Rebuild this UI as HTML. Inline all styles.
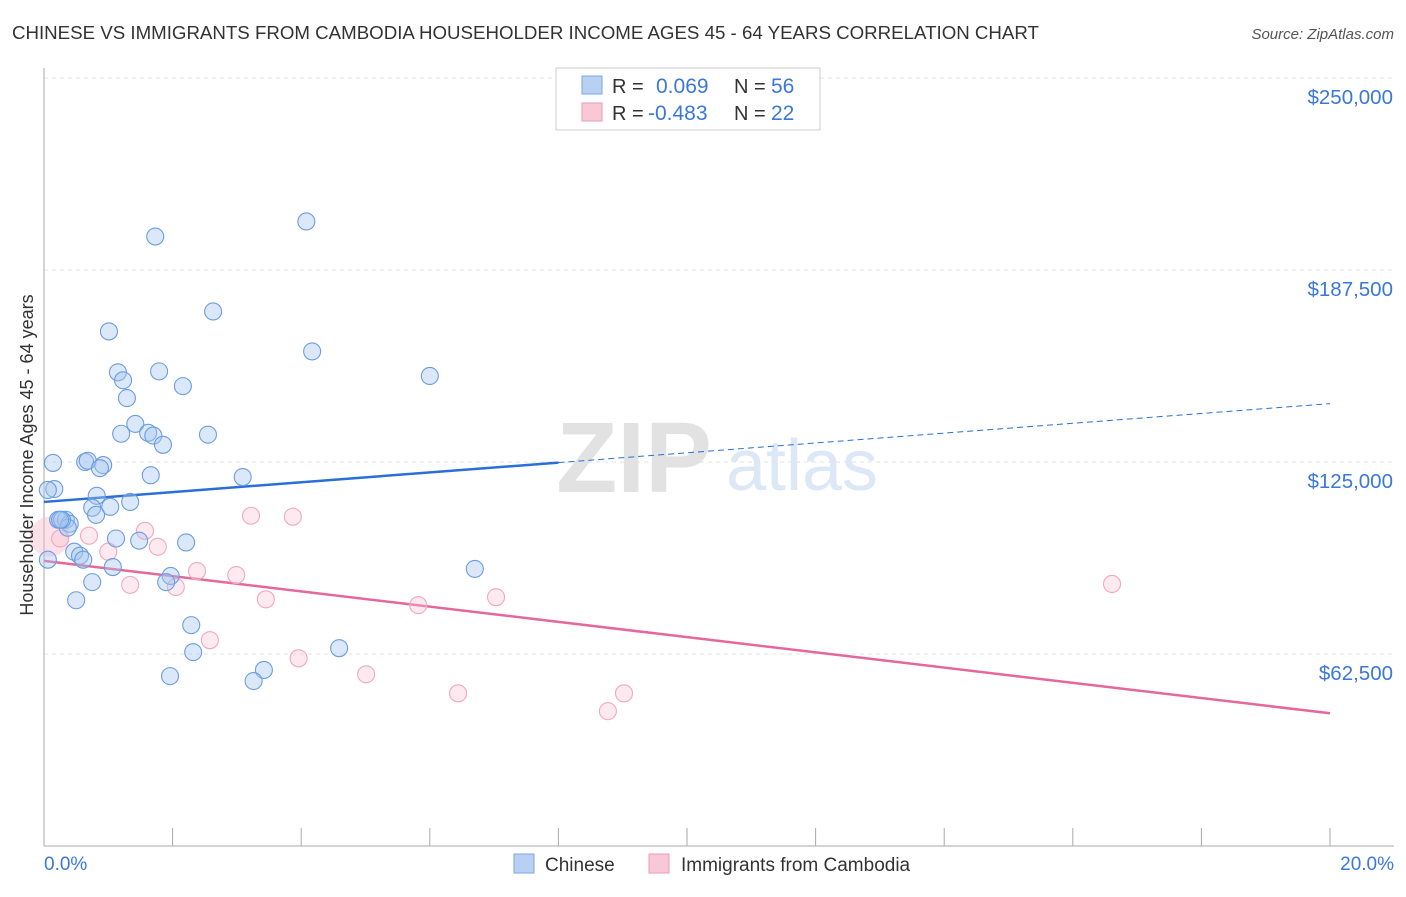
<!DOCTYPE html>
<html><head><meta charset="utf-8">
<style>
body{margin:0;background:#fff;font-family:"Liberation Sans",sans-serif;}
svg text{font-family:"Liberation Sans",sans-serif;}
</style></head>
<body>
<svg id="chart" width="1406" height="892">
<text x="12" y="39" font-size="18.7" fill="#333">CHINESE VS IMMIGRANTS FROM CAMBODIA HOUSEHOLDER INCOME AGES 45 - 64 YEARS CORRELATION CHART</text>
<text x="1394" y="39" font-size="15" fill="#555" text-anchor="end" font-style="italic">Source: ZipAtlas.com</text>
<text x="634" y="492" font-size="100" fill="#e2e2e2" text-anchor="middle" font-family="Liberation Serif" font-weight="bold">ZIP</text>
<text x="802" y="490" font-size="72" fill="#dde8f6" text-anchor="middle">atlas</text>
<g id="grid"></g>
<g id="axes"></g>
<g id="lines"></g>
<g id="pts"></g>
<text x="33" y="455" font-size="18" fill="#333" text-anchor="middle" transform="rotate(-90 33 455)">Householder Income Ages 45 - 64 years</text>
<text x="44" y="870" font-size="19" fill="#3a78d8">0.0%</text>
<text x="1394" y="870" font-size="19" fill="#3a78d8" text-anchor="end">20.0%</text>
<g>
<rect x="556" y="68" width="264" height="62" fill="#fff" stroke="#ccc"/>
<rect x="582" y="76" width="20" height="18" fill="#b8d1f3" stroke="#7aa7e6"/>
<rect x="582" y="103" width="20" height="18" fill="#f9c8d7" stroke="#ee9ab5"/>
<text x="612" y="93" font-size="20" fill="#333">R =</text>
<text x="656" y="93" font-size="21" fill="#3a78d8">0.069</text>
<text x="734" y="93" font-size="20" fill="#333">N =</text>
<text x="771" y="93" font-size="21" fill="#3a78d8">56</text>
<text x="612" y="120" font-size="20" fill="#333">R =</text>
<text x="648" y="120" font-size="21" fill="#3a78d8">-0.483</text>
<text x="734" y="120" font-size="20" fill="#333">N =</text>
<text x="771" y="120" font-size="21" fill="#3a78d8">22</text>
</g>
<g>
<rect x="514" y="854" width="20" height="19" fill="#b8d1f3" stroke="#7aa7e6"/>
<text x="545" y="871" font-size="19" fill="#333">Chinese</text>
<rect x="649" y="854" width="20" height="19" fill="#f9c8d7" stroke="#ee9ab5"/>
<text x="681" y="871" font-size="19" fill="#333">Immigrants from Cambodia</text>
</g>
</svg>
<script>
const yTicks=[62500,125000,187500,250000];
const yTickLabels=["$62,500","$125,000","$187,500","$250,000"];
const xTicks=[0,2,4,6,8,10,12,14,16,18,20];
const chineseX=[1.73,4.08,2.63,1.01,4.17,1.15,1.79,1.23,2.16,6.0,1.29,1.42,1.20,1.62,1.70,2.55,1.85,0.14,0.64,0.68,0.92,0.87,1.66,3.09,0.16,0.06,0.82,0.75,1.34,1.03,0.81,0.22,0.34,0.40,0.37,0.28,1.12,2.21,1.48,0.47,0.56,0.06,0.61,1.07,6.70,1.97,1.90,0.75,0.50,2.29,4.59,2.32,3.42,1.96,3.26,0.25];
const chineseY=[198400,203300,174000,167500,161000,154200,154500,151600,149700,153000,145800,137400,134200,134500,133600,133900,130600,124700,125000,125400,124000,123000,120700,120100,116200,115900,114000,110100,112000,110400,107800,106200,106200,104900,103600,106200,100100,98800,99400,95800,94500,93200,93200,90800,90200,87900,85900,85900,80000,71900,64400,63100,57300,55300,53700,106200];
const cambodiaX=[0.09,0.70,1.57,1.00,1.77,1.34,2.05,2.38,3.22,3.87,2.99,3.45,5.82,7.03,2.58,3.96,5.01,6.44,9.02,8.77,16.61,0.25];
const cambodiaY=[100700,101000,102600,95800,97400,85000,84300,89500,107500,107200,88200,80300,78400,81000,67000,61100,55900,49700,49700,43900,85300,100100];
const chineseTrend=[[0,112000],[8,124800],[20,144000]];
const cambodiaTrend=[[0,92800],[20,43200]];
const NS="http://www.w3.org/2000/svg";
const X0=44,X1=1330,Y0=846,YPX=192/62500;
const sx=v=>X0+(X1-X0)*v/20;
const sy=v=>Y0-v*YPX;
function mk(tag,attrs,parent){const e=document.createElementNS(NS,tag);for(const k in attrs)e.setAttribute(k,attrs[k]);document.getElementById(parent).appendChild(e);return e;}
yTicks.forEach((t,i)=>{
 const g=mk('line',{x1:44,x2:1394,y1:sy(t),y2:sy(t),stroke:'#e3e3e3','stroke-dasharray':'4,4'},'grid');
 
 
 const tx=mk('text',{x:1393,y:sy(t)+26,'font-size':20.5,fill:'#3a78d8','text-anchor':'end'},'axes');
 tx.textContent=yTickLabels[i];
 
 
});
const ax=mk('line',{x1:44,x2:44,y1:68,y2:846,stroke:'#aaa'},'axes');


const bx=mk('line',{x1:44,x2:1394,y1:846,y2:846,stroke:'#aaa'},'axes');


xTicks.forEach(t=>{
 const l=mk('line',{x1:sx(t),x2:sx(t),y1:828,y2:846,stroke:'#aaa'},'axes');
 
 
});
const t1=mk('line',{x1:sx(chineseTrend[0][0]),y1:sy(chineseTrend[0][1]),x2:sx(chineseTrend[1][0]),y2:sy(chineseTrend[1][1]),stroke:'#2a6fd6','stroke-width':2.5},'lines');


const t2=mk('line',{x1:sx(chineseTrend[1][0]),y1:sy(chineseTrend[1][1]),x2:sx(chineseTrend[2][0]),y2:sy(chineseTrend[2][1]),stroke:'#2a6fd6','stroke-width':1,'stroke-dasharray':'6,4'},'lines');


const t3=mk('line',{x1:sx(cambodiaTrend[0][0]),y1:sy(cambodiaTrend[0][1]),x2:sx(cambodiaTrend[1][0]),y2:sy(cambodiaTrend[1][1]),stroke:'#e5689a','stroke-width':2.5},'lines');


const bp=mk('circle',{cx:sx(cambodiaX[0]),cy:sy(cambodiaY[0]),r:20,fill:'rgba(247,180,200,0.4)',stroke:'none'},'pts');


cambodiaX.forEach((x,i)=>{if(i===0)return;
 const c=mk('circle',{cx:sx(x),cy:sy(cambodiaY[i]),r:8.5,fill:'rgba(248,195,212,0.35)',stroke:'#f0a8c0','stroke-width':1.1},'pts');
 
 
});
chineseX.forEach((x,i)=>{
 const c=mk('circle',{cx:sx(x),cy:sy(chineseY[i]),r:8.5,fill:'rgba(165,198,240,0.4)',stroke:'#6c9de0','stroke-width':1.1},'pts');
 
 
});
</script>
</body></html>
